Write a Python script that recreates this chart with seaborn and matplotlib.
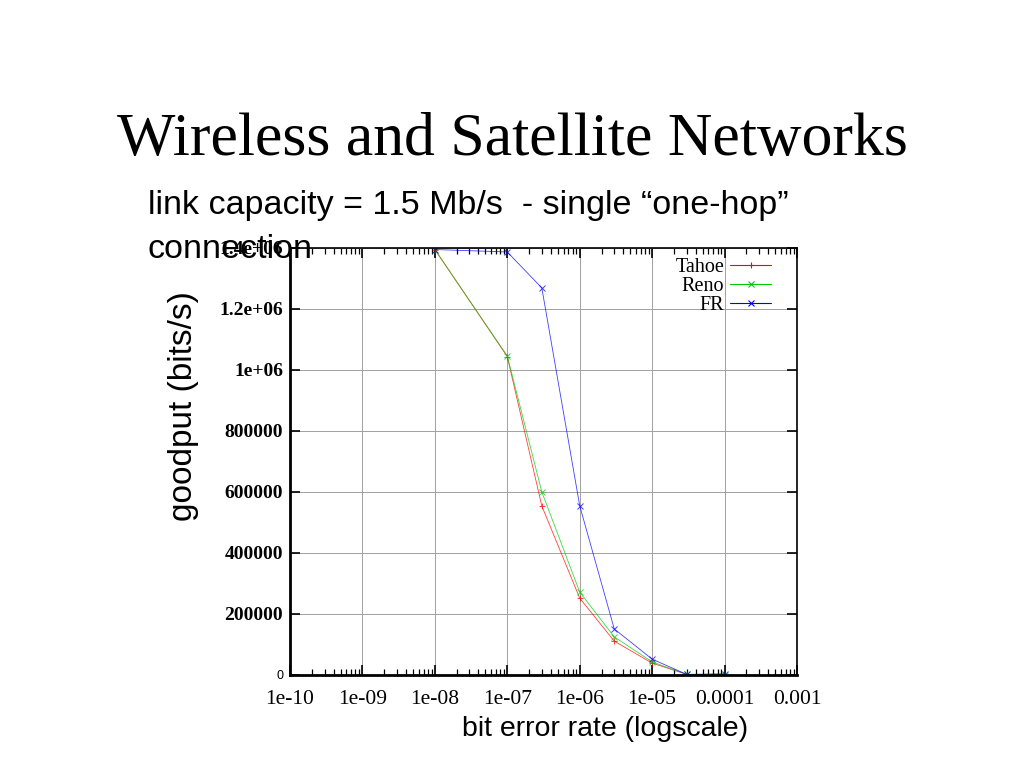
import numpy as np
import pandas as pd
import matplotlib
matplotlib.use("Agg")
import matplotlib.pyplot as plt
import seaborn as sns
from matplotlib.lines import Line2D
from matplotlib.ticker import LogLocator, FixedLocator, NullFormatter

# ---- data ----
ber = [1e-8, 1e-7, 3e-7, 1e-6, 3e-6, 1e-5, 3e-5, 1e-4]
tahoe = [1.395e6, 1.044e6, 0.554e6, 0.252e6, 0.111e6, 0.039e6, 0.002e6, 0.001e6]
reno = [1.395e6, 1.046e6, 0.600e6, 0.272e6, 0.125e6, 0.043e6, 0.002e6, 0.001e6]
fr = [1.395e6, 1.387e6, 1.269e6, 0.555e6, 0.151e6, 0.052e6, 0.002e6, 0.004e6]
series_names = ["Tahoe", "Reno", "FR"]
x_ticks = [1e-10, 1e-9, 1e-8, 1e-7, 1e-6, 1e-5, 1e-4, 1e-3]
x_tick_labels = ["1e-10", "1e-09", "1e-08", "1e-07", "1e-06", "1e-05", "0.0001", "0.001"]
y_ticks = [0, 200000, 400000, 600000, 800000, 1000000, 1200000, 1400000]
y_tick_labels = ["0", "200000", "400000", "600000", "800000", "1e+06", "1.2e+06", "1.4e+06"]

df = pd.DataFrame({
    "ber": ber * 3,
    "goodput": tahoe + reno + fr,
    "variant": [n for n in series_names for _ in ber],
})

sns.set_style("white")
plt.rcParams["font.family"] = ["DejaVu Sans"]
plt.rcParams["text.color"] = "black"
plt.rcParams["xtick.color"] = "black"
plt.rcParams["ytick.color"] = "black"

fig = plt.figure(figsize=(10.24, 7.68), dpi=100)
ax = fig.add_axes([0.2832, 0.1211, 0.4951, 0.556])

palette = {"Tahoe": "#ff0000", "Reno": "#00cc00", "FR": "#0000ff"}
markers = {"Tahoe": "+", "Reno": "x", "FR": "x"}
sns.lineplot(data=df, x="ber", y="goodput", hue="variant", style="variant",
             palette=palette, markers=markers, dashes=False, linewidth=0.6,
             markersize=5, markeredgewidth=0.7, alpha=0.75, ax=ax, legend=False)
for ln in ax.lines:
    ln.set_markeredgecolor(ln.get_color())

ax.set_xscale("log")
ax.set_xlim(1e-10, 1e-3)
ax.set_ylim(0, 1.4e6)
ax.xaxis.set_major_locator(FixedLocator(x_ticks))
ax.set_xticks(x_ticks)
ax.set_xticklabels(x_tick_labels)
ax.xaxis.set_minor_locator(LogLocator(base=10, subs=np.arange(2, 10)))
ax.xaxis.set_minor_formatter(NullFormatter())
ax.set_yticks(y_ticks)
ax.set_yticklabels(y_tick_labels)

ax.grid(True, which="major", color="#a0a0a0", linewidth=0.7)
ax.tick_params(which="both", direction="in", top=True, right=True, left=True, bottom=True)
ax.tick_params(which="major", length=7, width=1.2)
ax.tick_params(which="minor", length=4, width=0.9)
for lab in ax.get_xticklabels():
    lab.set_fontfamily("Liberation Serif")
    lab.set_fontsize(15.5)
for i, lab in enumerate(ax.get_yticklabels()):
    if i == 0:
        lab.set_fontfamily("Liberation Sans")
        lab.set_fontsize(9)
    else:
        lab.set_fontfamily("Liberation Serif")
        lab.set_fontweight("bold")
        lab.set_fontsize(14)
ax.tick_params(axis="x", pad=11)
ax.tick_params(axis="y", pad=5)

for side in ["left", "bottom"]:
    ax.spines[side].set_linewidth(2.0)
    ax.spines[side].set_color("black")
for side in ["top", "right"]:
    ax.spines[side].set_linewidth(1.2)
    ax.spines[side].set_color("black")

ax.set_xlabel("")
ax.set_ylabel("")

handles = [Line2D([], [], color=palette[n], marker=markers[n], markeredgecolor=palette[n],
                  markerfacecolor=palette[n], linewidth=0.8, markersize=5,
                  markeredgewidth=0.8)
           for n in series_names]
leg = ax.legend(handles, series_names, loc="upper right", markerfirst=False, frameon=False,
                prop={"family": "Liberation Serif", "size": 14.5}, handlelength=2.0,
                labelspacing=0.0, borderaxespad=0.1, handletextpad=0.3,
                bbox_to_anchor=(0.968, 1.0))

fig.text(0.5, 0.818, "Wireless and Satellite Networks", ha="center", va="center",
         fontfamily="Liberation Serif", fontsize=44.5)
fig.text(0.1445, 1 - 214 / 768, "link capacity = 1.5 Mb/s  - single \u201cone-hop\u201d",
         ha="left", va="baseline", fontfamily="Liberation Sans", fontsize=24.5)
fig.text(0.1445, 1 - 258 / 768, "connection",
         ha="left", va="baseline", fontfamily="Liberation Sans", fontsize=24.5)
fig.text(0.179, 0.471, "goodput (bits/s)", rotation=90, ha="center", va="center",
         fontfamily="Liberation Sans", fontsize=24)
fig.text(0.591, 0.051, "bit error rate (logscale)", ha="center", va="center",
         fontfamily="Liberation Sans", fontsize=20.5)

fig.savefig("out.png", dpi=100)
